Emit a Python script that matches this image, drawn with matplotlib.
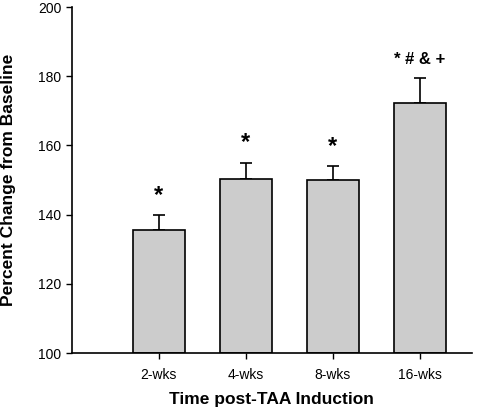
import matplotlib
matplotlib.use('Agg')
import matplotlib.pyplot as plt

plt.rcParams['font.family'] = ['Liberation Sans', 'DejaVu Sans']

groups = ['2-wks', '4-wks', '8-wks', '16-wks']
means = [135.7, 150.3, 149.9, 172.3]
errs = [4.1, 4.6, 4.1, 7.1]
marks = ['*', '*', '*', '* # & +']

fig = plt.figure(figsize=(4.86, 4.12), dpi=100)
ax = fig.add_axes([0.148, 0.143, 0.823, 0.840])

x = [1, 2, 3, 4]
ax.bar(x, [m - 100 for m in means], bottom=100, width=0.6,
       color='#cccccc', edgecolor='black', linewidth=1.2, zorder=2)
ax.errorbar(x, means, yerr=[[0] * 4, errs], fmt='none', ecolor='black',
            elinewidth=1.2, capsize=4, capthick=1.2, zorder=1)

for xi, m, e, s in zip(x, means, errs, marks):
    if s == '*':
        ax.text(xi, m + e + 2.5, s, ha='center', va='bottom',
                fontsize=17, fontweight='bold')
    else:
        ax.text(xi, m + e + 3.3, s, ha='center', va='bottom',
                fontsize=12, fontweight='bold')

ax.set_xlim(0, 4.6)
ax.set_ylim(100, 200)
ax.set_yticks(range(100, 201, 20))
ax.set_xticks(x)
ax.set_xticklabels(groups)
ax.tick_params(axis='both', labelsize=10, length=4, width=1, direction='out')
ax.tick_params(axis='x', pad=7)
for side in ['top', 'right']:
    ax.spines[side].set_visible(False)
for side in ['left', 'bottom']:
    ax.spines[side].set_linewidth(1.2)

ax.set_xlabel('Time post-TAA Induction', fontsize=12.5, fontweight='bold', labelpad=7)
ax.set_ylabel('Percent Change from Baseline', fontsize=12.5, fontweight='bold', labelpad=16)

fig.savefig('out.png', dpi=100)
